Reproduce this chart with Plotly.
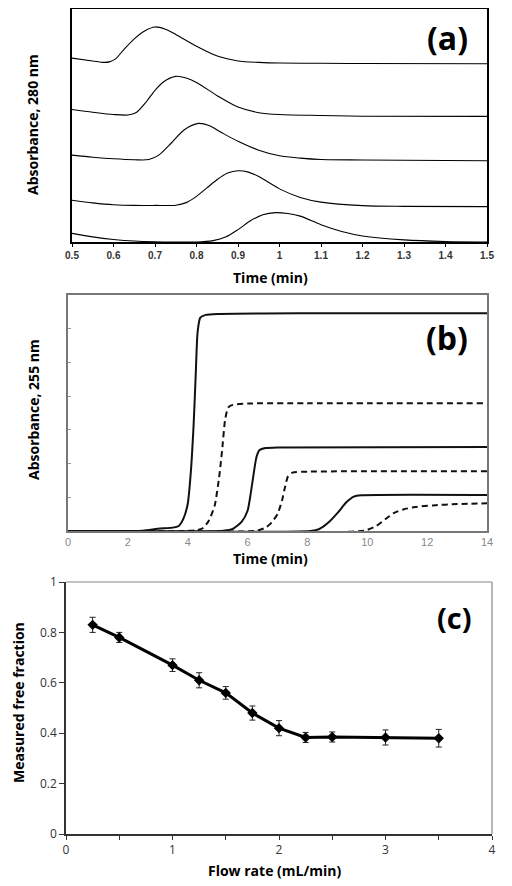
import plotly.graph_objects as go

# ---------------- Panel (a): absorbance at 280 nm (relative units) ----------------
a_x1 = [0.5, 0.55, 0.575, 0.59, 0.605, 0.625, 0.65, 0.675, 0.7, 0.725, 0.75, 0.8, 0.85, 0.9, 0.95, 1.0, 1.1, 1.2, 1.5]
a_y1 = [0.789, 0.777, 0.771, 0.773, 0.786, 0.826, 0.872, 0.906, 0.923, 0.913, 0.891, 0.840, 0.798, 0.777, 0.771, 0.768, 0.767, 0.766, 0.765]

a_x2 = [0.5, 0.55, 0.6, 0.635, 0.655, 0.68, 0.7, 0.72, 0.75, 0.775, 0.8, 0.85, 0.9, 0.95, 1.0, 1.1, 1.2, 1.5]
a_y2 = [0.569, 0.557, 0.547, 0.545, 0.556, 0.604, 0.651, 0.687, 0.711, 0.704, 0.685, 0.628, 0.579, 0.555, 0.547, 0.543, 0.540, 0.539]

a_x3 = [0.5, 0.55, 0.6, 0.65, 0.685, 0.71, 0.74, 0.77, 0.805, 0.83, 0.86, 0.9, 0.95, 1.0, 1.05, 1.1, 1.2, 1.5]
a_y3 = [0.373, 0.364, 0.357, 0.353, 0.354, 0.374, 0.426, 0.481, 0.509, 0.500, 0.470, 0.432, 0.394, 0.370, 0.360, 0.354, 0.352, 0.349]

a_x4 = [0.5, 0.55, 0.6, 0.65, 0.7, 0.75, 0.775, 0.8, 0.825, 0.85, 0.875, 0.9, 0.925, 0.95, 1.0, 1.05, 1.1, 1.2, 1.3, 1.5]
a_y4 = [0.179, 0.168, 0.160, 0.157, 0.157, 0.158, 0.169, 0.196, 0.232, 0.268, 0.296, 0.306, 0.300, 0.281, 0.228, 0.191, 0.171, 0.156, 0.153, 0.152]

a_x5 = [0.5, 0.55, 0.6, 0.65, 0.7, 0.8, 0.84, 0.87, 0.9, 0.93, 0.96, 0.99, 1.02, 1.05, 1.1, 1.15, 1.2, 1.3, 1.4, 1.5]
a_y5 = [0.037, 0.022, 0.011, 0.004, 0.001, 0.0, 0.006, 0.021, 0.053, 0.091, 0.117, 0.126, 0.122, 0.111, 0.074, 0.045, 0.026, 0.009, 0.002, 0.0]

a_tickvals = [0.5, 0.6, 0.7, 0.8, 0.9, 1.0, 1.1, 1.2, 1.3, 1.4, 1.5]
a_ticktext = ["0.5", "0.6", "0.7", "0.8", "0.9", "1", "1.1", "1.2", "1.3", "1.4", "1.5"]

# ---------------- Panel (b): absorbance at 255 nm (relative units) ----------------
b_x_s1 = [0, 2.5, 3.0, 3.5, 3.7, 3.85, 4.0, 4.1, 4.2, 4.27, 4.33, 4.42, 4.6, 5.0, 8.0, 14]
b_y_s1 = [0.0, 0.01, 0.07, 0.1, 0.15, 0.35, 0.8, 1.7, 3.2, 4.7, 5.9, 6.33, 6.41, 6.44, 6.46, 6.46]

b_x_d1 = [0, 4.3, 4.5, 4.7, 4.9, 5.05, 5.15, 5.25, 5.35, 5.5, 6.0, 8.0, 14]
b_y_d1 = [0.0, 0.02, 0.08, 0.3, 0.75, 1.6, 2.4, 3.3, 3.66, 3.74, 3.78, 3.79, 3.79]

b_x_s2 = [0, 5.2, 5.5, 5.8, 6.0, 6.12, 6.22, 6.3, 6.4, 6.6, 7.0, 14]
b_y_s2 = [0.0, 0.01, 0.06, 0.27, 0.6, 1.2, 1.8, 2.2, 2.4, 2.46, 2.48, 2.49]

b_x_d2 = [0, 6.3, 6.6, 6.8, 7.0, 7.15, 7.25, 7.35, 7.5, 8.0, 14]
b_y_d2 = [0.0, 0.01, 0.1, 0.25, 0.5, 0.9, 1.3, 1.62, 1.73, 1.76, 1.77]

b_x_s3 = [0, 8.1, 8.4, 8.7, 9.0, 9.3, 9.55, 9.8, 14]
b_y_s3 = [0.0, 0.0, 0.06, 0.25, 0.53, 0.85, 1.02, 1.06, 1.07]

b_x_d3 = [0, 9.9, 10.3, 10.6, 10.9, 11.2, 11.6, 12.2, 13.0, 14]
b_y_d3 = [0.0, 0.01, 0.15, 0.35, 0.54, 0.64, 0.71, 0.76, 0.80, 0.82]

b_tickvals = [0, 2, 4, 6, 8, 10, 12, 14]
b_ticktext = ["0", "2", "4", "6", "8", "10", "12", "14"]

# ---------------- Panel (c): measured free fraction vs flow rate ----------------
c_flow = [0.25, 0.5, 1.0, 1.25, 1.5, 1.75, 2.0, 2.25, 2.5, 3.0, 3.5]
c_frac = [0.83, 0.78, 0.67, 0.61, 0.56, 0.48, 0.42, 0.383, 0.385, 0.383, 0.38]
c_err = [0.03, 0.02, 0.025, 0.03, 0.025, 0.028, 0.03, 0.02, 0.02, 0.03, 0.035]

c_xtickvals = [0, 0.5, 1, 1.5, 2, 2.5, 3, 3.5, 4]
c_xticktext = ["0", "", "1", "", "2", "", "3", "", "4"]
c_ytickvals = [0, 0.2, 0.4, 0.6, 0.8, 1.0]
c_yticktext = ["0", "0.2", "0.4", "0.6", "0.8", "1"]

# page body has an 8px margin; the figure starts at (8, 8) in the window
OFF = 8
W, H = 512 - OFF, 886 - OFF


def px_x(p):
    return min(1.0, max(0.0, (p - OFF) / W))


def px_y(p):
    return min(1.0, max(0.0, 1 - (p - OFF) / H))


fig = go.Figure()

# panel a traces
for xs, ys in [(a_x1, a_y1), (a_x2, a_y2), (a_x3, a_y3), (a_x4, a_y4), (a_x5, a_y5)]:
    fig.add_trace(go.Scatter(x=xs, y=ys, mode="lines", line=dict(color="black", width=1.1, shape="spline", smoothing=0.8),
                             xaxis="x", yaxis="y", hoverinfo="skip"))

# panel b traces
for xs, ys, dash in [(b_x_s1, b_y_s1, "solid"), (b_x_d1, b_y_d1, "6px,4px"), (b_x_s2, b_y_s2, "solid"),
                     (b_x_d2, b_y_d2, "6px,4px"), (b_x_s3, b_y_s3, "solid"), (b_x_d3, b_y_d3, "6px,4px")]:
    fig.add_trace(go.Scatter(x=xs, y=ys, mode="lines", line=dict(color="#111", width=2, dash=dash, shape="spline", smoothing=0.6),
                             xaxis="x2", yaxis="y2", hoverinfo="skip"))

# panel c trace
fig.add_trace(go.Scatter(x=c_flow, y=c_frac, mode="lines+markers",
                         line=dict(color="black", width=3),
                         marker=dict(symbol="diamond", size=8, color="black"),
                         error_y=dict(type="data", array=c_err, visible=True, color="#222", thickness=1, width=3),
                         xaxis="x3", yaxis="y3"))

dom_a_x = [px_x(72), px_x(487)]
dom_a_y = [px_y(242), px_y(9)]
dom_b_x = [px_x(68), px_x(487)]
dom_b_y = [px_y(531), px_y(295)]
dom_c_x = [px_x(66), px_x(492)]
dom_c_y = [px_y(834), px_y(582)]

fig.update_layout(
    template="none",
    width=W, height=H, margin=dict(l=0, r=0, t=0, b=0, pad=0),
    paper_bgcolor="white", plot_bgcolor="white", showlegend=False,
    font=dict(family="Open Sans", color="black"),
    xaxis=dict(domain=dom_a_x, range=[0.5, 1.5], tickvals=a_tickvals, ticktext=a_ticktext, automargin=False,
               showline=True, mirror=True, linecolor="black", linewidth=1.5,
               ticks="outside", ticklen=3, tickcolor="black", showgrid=False, zeroline=False,
               tickfont=dict(family="Liberation Sans", size=10, color="#333", weight="bold"), anchor="y"),
    yaxis=dict(domain=dom_a_y, range=[0, 1], showticklabels=False, ticks="", automargin=False,
               showline=True, mirror=True, linecolor="black", linewidth=1.5,
               showgrid=False, zeroline=False, anchor="x"),
    xaxis2=dict(domain=dom_b_x, range=[0, 14], tickvals=b_tickvals, ticktext=b_ticktext, automargin=False,
                showline=True, mirror=True, linecolor="#777", linewidth=2,
                ticks="", showgrid=False, zeroline=False,
                tickfont=dict(family="Liberation Sans", size=11, color="#888"), anchor="y2"),
    yaxis2=dict(domain=dom_b_y, range=[0, 7], dtick=1, showticklabels=False, ticks="inside", ticklen=3,
                tickcolor="#999", showline=True, mirror=True, linecolor="#777", linewidth=2, automargin=False,
                showgrid=False, zeroline=False, anchor="x2"),
    xaxis3=dict(domain=dom_c_x, range=[0, 4], tickvals=c_xtickvals, ticktext=c_xticktext, automargin=False,
                showline=True, linecolor="#333", linewidth=1.5,
                ticks="outside", ticklen=4, tickcolor="#333", showgrid=False, zeroline=False,
                tickfont=dict(family="Open Sans", size=12, color="#333"), anchor="y3"),
    yaxis3=dict(domain=dom_c_y, range=[0, 1], tickvals=c_ytickvals, ticktext=c_yticktext, automargin=False,
                showline=True, linecolor="#333", linewidth=1.5,
                ticks="outside", ticklen=5, tickcolor="#333", showgrid=False, zeroline=False,
                tickfont=dict(family="Open Sans", size=12, color="#333"), anchor="x3"),
)

# grey top/right frame for panel c
fig.add_shape(type="line", xref="paper", yref="paper", x0=dom_c_x[0], x1=dom_c_x[1], y0=dom_c_y[1], y1=dom_c_y[1],
              line=dict(color="#888", width=1.2))
fig.add_shape(type="line", xref="paper", yref="paper", x0=dom_c_x[1], x1=dom_c_x[1], y0=dom_c_y[0], y1=dom_c_y[1],
              line=dict(color="#888", width=1.2))

title_font = dict(family="Open Sans", size=14, color="black")
label_font = dict(family="Open Sans", size=32, color="black")

annotations = [
    # panel labels
    dict(text="<b>(a)</b>", x=px_x(447), y=px_y(37), font=label_font),
    dict(text="<b>(b)</b>", x=px_x(447), y=px_y(338), font=label_font),
    dict(text="<b>(c)</b>", x=px_x(454), y=px_y(617), font=dict(family="Open Sans", size=29, color="black")),
    # axis titles
    dict(text="<b>Absorbance, 280 nm</b>", x=px_x(32), y=px_y(125), textangle=-90, font=title_font),
    dict(text="<b>Time (min)</b>", x=px_x(270), y=px_y(277), font=title_font),
    dict(text="<b>Absorbance, 255 nm</b>", x=px_x(33), y=px_y(410), textangle=-90, font=title_font),
    dict(text="<b>Time (min)</b>", x=px_x(270), y=px_y(558), font=title_font),
    dict(text="<b>Measured free fraction</b>", x=px_x(18), y=px_y(703), textangle=-90, font=title_font),
    dict(text="<b>Flow rate (mL/min)</b>", x=px_x(274), y=px_y(870), font=title_font),
]
for an in annotations:
    fig.add_annotation(xref="paper", yref="paper", showarrow=False, xanchor="center", yanchor="middle", **an)

fig.write_html("out.html")
